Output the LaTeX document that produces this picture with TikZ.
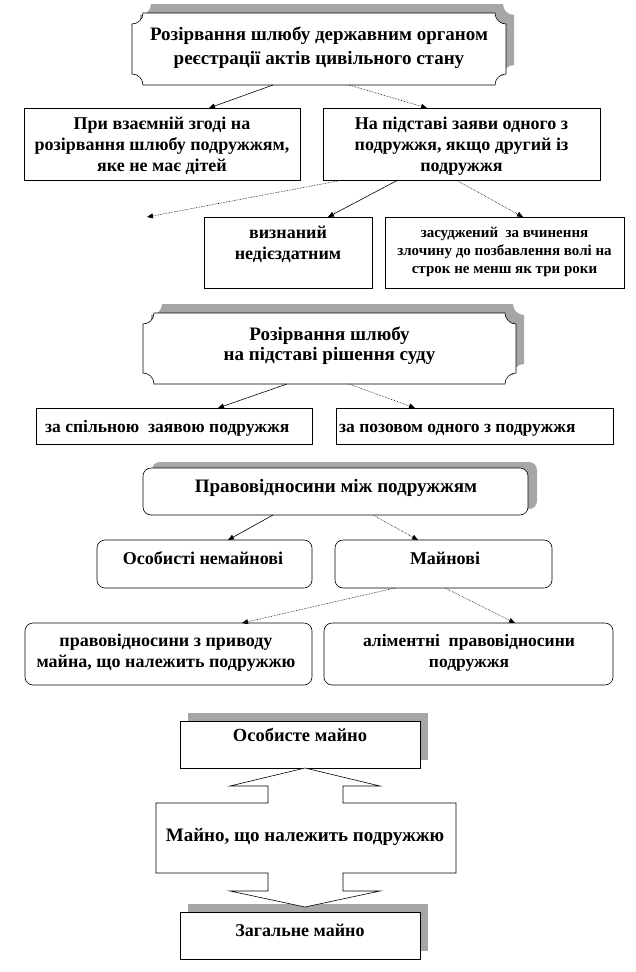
\documentclass[tikz,border=0pt]{standalone}
\usepackage{fontspec}
\setmainfont{Liberation Serif}
\usetikzlibrary{arrows.meta,backgrounds}
\newcommand\fs[2]{\fontsize{#1}{#2}\selectfont\bfseries}
\newcommand\plq[4]{\path[#4] ([xshift=#2,yshift=#3-11pt]#1.north west) arc[start angle=270,end angle=360,radius=11pt] -- ([xshift=#2-11pt,yshift=#3]#1.north east) arc[start angle=180,end angle=270,radius=11pt] -- ([xshift=#2,yshift=#3+11pt]#1.south east) arc[start angle=90,end angle=180,radius=11pt] -- ([xshift=#2+11pt,yshift=#3]#1.south west) arc[start angle=0,end angle=90,radius=11pt] -- cycle;}
\begin{document}
\begin{tikzpicture}[x=1pt,y=-1pt,
  box/.style={draw=black, line width=0.6pt, fill=white, inner sep=0pt, outer sep=0pt},
  ghost/.style={inner sep=0pt, outer sep=0pt},
  rbox/.style={box, rounded corners=8pt},
  shad/.style={fill=black!35, draw=none},
  plaq/.style={draw=black, line width=0.6pt, fill=white},
  txt/.style={inner sep=0pt, align=center},
  arr/.style={-{Triangle[length=6pt,width=5pt]}, line width=0.6pt},
  darr/.style={arr, densely dotted},
]
\useasboundingbox (0,0) rectangle (636,972);

% ---------- section 1 ----------
\node[ghost, minimum width=374pt, minimum height=72pt] (P1) at (319,49) {};
\begin{pgfonlayer}{background}\plq{P1}{8pt}{9pt}{shad}\end{pgfonlayer}
\plq{P1}{0pt}{0pt}{plaq}
\node[txt, font=\fs{19}{24}] (tP1) at (319,48) {Розірвання шлюбу державним органом\\реєстрації актів цивільного стану};

\node[box, minimum width=276pt, minimum height=72pt] (B1) at (162,144) {};
\node[txt, font=\fs{18}{21}] (tB1) at (162,146) {При взаємній згоді на\\розірвання шлюбу подружжям,\\яке не має дітей};

\node[box, minimum width=277pt, minimum height=72pt] (B2) at (461.5,144) {};
\node[txt, font=\fs{18}{21}] (tB2) at (461.5,146) {На підставі заяви одного з\\подружжя, якщо другий із\\подружжя};

\node[box, minimum width=168pt, minimum height=71pt] (B3) at (288,252.5) {};
\node[txt, font=\fs{18}{21}] (tB3) at (288,244) {визнаний\\недієздатним};

\node[box, minimum width=239pt, minimum height=71pt] (B4) at (504.5,252.5) {};
\node[txt, font=\fs{15}{18}] (tB4) at (504.5,252) {засуджений\ \ за вчинення\\злочину до позбавлення волі на\\строк не менш як три роки};

\coordinate (void) at (147,217);

\draw[arr]  ([xshift=141pt]P1.south west) -- ([xshift=185pt]B1.north west);
\draw[darr] ([xshift=217pt]P1.south west) -- ([xshift=104pt]B2.north west);
\draw[darr] ([xshift=20pt]B2.south west) -- (void);
\draw[arr]  ([xshift=75pt]B2.south west) -- ([xshift=124pt]B3.north west);
\draw[darr] ([xshift=133pt]B2.south west) -- ([xshift=138pt]B4.north west);

% ---------- section 2 ----------
\node[ghost, minimum width=373pt, minimum height=71pt] (P2) at (329.5,348.5) {};
\begin{pgfonlayer}{background}\plq{P2}{8pt}{9pt}{shad}\end{pgfonlayer}
\plq{P2}{0pt}{0pt}{plaq}
\node[txt, font=\fs{19}{20}] (tP2) at (329.5,346) {Розірвання шлюбу\\на підставі рішення суду};

\node[box, minimum width=276pt, minimum height=36pt] (B5) at (174,426) {};
\node[txt, font=\fs{17.5}{18}, anchor=base west] (tB5) at (45,432) {за спільною\ \ заявою подружжя};
\node[box, minimum width=277pt, minimum height=36pt] (B6) at (474.5,426) {};
\node[txt, font=\fs{17.5}{18}, anchor=base west] (tB6) at (339,432) {за позовом одного з подружжя};

\draw[arr]  ([xshift=144pt]P2.south west) -- ([xshift=182pt]B5.north west);
\draw[darr] ([xshift=206pt]P2.south west) -- ([xshift=79pt]B6.north west);

% ---------- section 3 ----------
\node[rbox, minimum width=385pt, minimum height=47pt] (R1) at (335.5,491.5) {};
\begin{pgfonlayer}{background}
\path[shad, rounded corners=8pt] ([xshift=9pt,yshift=6pt]R1.south west) rectangle ([xshift=9pt,yshift=6pt]R1.north east);
\end{pgfonlayer}
\node[txt, font=\fs{19}{20}] (tR1) at (336,488) {Правовідносини між подружжям};

\node[rbox, minimum width=215pt, minimum height=48pt] (R2) at (204.5,564) {};
\node[txt, font=\fs{18}{20}] (tR2) at (203,558) {Особисті немайнові};
\node[rbox, minimum width=217pt, minimum height=48pt] (R3) at (443.5,564) {};
\node[txt, font=\fs{18}{20}] (tR3) at (445,558) {Майнові};

\node[rbox, minimum width=287pt, minimum height=62pt] (R4) at (168.5,654) {};
\node[txt, font=\fs{18}{21}] (tR4) at (166,653) {правовідносини з приводу\\майна, що належить подружжю};
\node[rbox, minimum width=289pt, minimum height=62pt] (R5) at (468.5,654) {};
\node[txt, font=\fs{17.5}{21}] (tR5) at (469,652.5) {аліментні\ \ правовідносини\\подружжя};

\draw[arr]  ([xshift=130pt]R1.south west) -- ([xshift=131pt]R2.north west);
\draw[darr] ([xshift=230pt]R1.south west) -- ([xshift=83pt]R3.north west);
\draw[darr] ([xshift=60pt]R3.south west) -- ([xshift=217pt]R4.north west);
\draw[darr] ([xshift=110pt]R3.south west) -- ([xshift=191pt]R5.north west);

% ---------- section 4 ----------
\node[box, minimum width=240pt, minimum height=47pt] (B7) at (300,744.5) {};
\begin{pgfonlayer}{background}
\path[shad] ([xshift=8pt,yshift=8pt]B7.south west) rectangle ([xshift=8pt,yshift=8pt]B7.north east);
\end{pgfonlayer}
\node[txt, font=\fs{18.5}{20}] (tB7) at (300,735) {Особисте майно};

\draw[line width=0.6pt, fill=white] (305,768) -- (380,786) -- (343,786) -- (343,803) -- (456,803) -- (456,873) -- (343,873) -- (343,891) -- (380,891) -- (305,907) -- (230,891) -- (268,891) -- (268,873) -- (156,873) -- (156,803) -- (268,803) -- (268,786) -- (230,786) -- cycle;
\node[txt, font=\fs{19}{20}] (tM) at (305,837) {Майно, що належить подружжю};

\node[box, minimum width=240pt, minimum height=47pt] (B8) at (300,935.5) {};
\begin{pgfonlayer}{background}
\path[shad] ([xshift=8pt,yshift=8pt]B8.south west) rectangle ([xshift=8pt,yshift=8pt]B8.north east);
\end{pgfonlayer}
\node[txt, font=\fs{18}{20}] (tB8) at (300,930) {Загальне майно};
\end{tikzpicture}
\end{document}
